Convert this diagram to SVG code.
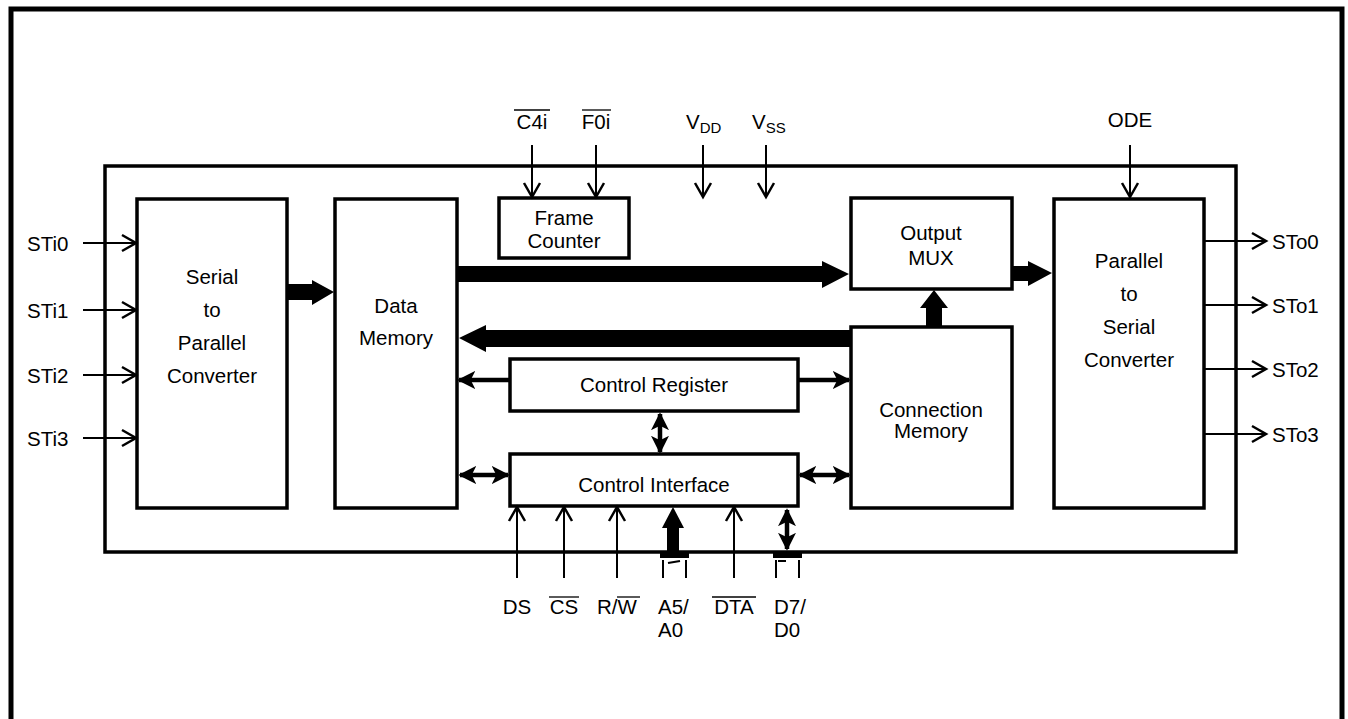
<svg xmlns="http://www.w3.org/2000/svg" width="1348" height="719" viewBox="0 0 1348 719">
<defs>
<style>
.box{fill:#fff;stroke:#000;stroke-width:3.5}
.frame{fill:none;stroke:#000;stroke-width:5}
.t{font-family:"Liberation Sans",Arial,sans-serif;font-size:20.5px;fill:#000;text-anchor:middle}
.l{font-family:"Liberation Sans",Arial,sans-serif;font-size:20.5px;fill:#000}
.w{stroke:#000;stroke-width:2;fill:none}
.m{stroke:#000;stroke-width:4.5;fill:none}
.fill{fill:#000;stroke:none}
.ov{stroke:#000;stroke-width:1.3}
</style>
<marker id="open" viewBox="0 0 20 20" refX="17" refY="10" markerWidth="20" markerHeight="20" markerUnits="userSpaceOnUse" orient="auto">
<polyline points="3,2 17,10 3,18" fill="none" stroke="#000" stroke-width="2.5"/>
</marker>
<marker id="solid" viewBox="0 0 20 20" refX="18" refY="10" markerWidth="18" markerHeight="18" markerUnits="userSpaceOnUse" orient="auto-start-reverse">
<polygon points="0,0 20,10 0,20 5,10" fill="#000"/>
</marker>
</defs>
<path class="frame" d="M11,725 V9 H1342 V725"/>
<g id="chip"><rect class="box" x="105" y="166" width="1131" height="386"/></g>
<g id="serial-to-parallel"><rect class="box" x="137" y="199" width="150" height="309"/>
<text class="t" x="212" y="284">Serial</text><text class="t" x="212" y="317">to</text><text class="t" x="212" y="350">Parallel</text><text class="t" x="212" y="383">Converter</text></g>
<g id="data-memory"><rect class="box" x="335" y="199" width="122" height="309"/>
<text class="t" x="396" y="313">Data</text><text class="t" x="396" y="345">Memory</text></g>
<g id="frame-counter"><rect class="box" x="499" y="198" width="130" height="60"/>
<text class="t" x="564" y="225">Frame</text><text class="t" x="564" y="248">Counter</text></g>
<g id="output-mux"><rect class="box" x="851" y="198" width="161" height="91"/>
<text class="t" x="931" y="240">Output</text><text class="t" x="931" y="265">MUX</text></g>
<g id="connection-memory"><rect class="box" x="851" y="327" width="161" height="181"/>
<text class="t" x="931" y="417">Connection</text><text class="t" x="931" y="438">Memory</text></g>
<g id="parallel-to-serial"><rect class="box" x="1054" y="199" width="150" height="309"/>
<text class="t" x="1129" y="268">Parallel</text><text class="t" x="1129" y="301">to</text><text class="t" x="1129" y="334">Serial</text><text class="t" x="1129" y="367">Converter</text></g>
<g id="control-register"><rect class="box" x="510" y="359" width="288" height="52"/>
<text class="t" x="654" y="392">Control Register</text></g>
<g id="control-interface"><rect class="box" x="510" y="454" width="288" height="52"/>
<text class="t" x="654" y="492">Control Interface</text></g>
<g id="connectors">
<line class="w" x1="83" y1="243" x2="136" y2="243" marker-end="url(#open)"/>
<line class="w" x1="83" y1="310" x2="136" y2="310" marker-end="url(#open)"/>
<line class="w" x1="83" y1="375" x2="136" y2="375" marker-end="url(#open)"/>
<line class="w" x1="83" y1="438" x2="136" y2="438" marker-end="url(#open)"/>
<line class="w" x1="1205" y1="241" x2="1266" y2="241" marker-end="url(#open)"/>
<line class="w" x1="1205" y1="305" x2="1266" y2="305" marker-end="url(#open)"/>
<line class="w" x1="1205" y1="369" x2="1266" y2="369" marker-end="url(#open)"/>
<line class="w" x1="1205" y1="434" x2="1266" y2="434" marker-end="url(#open)"/>
<line class="w" x1="532" y1="145" x2="532" y2="197" marker-end="url(#open)"/>
<line class="w" x1="596" y1="145" x2="596" y2="197" marker-end="url(#open)"/>
<line class="w" x1="703" y1="145" x2="703" y2="197" marker-end="url(#open)"/>
<line class="w" x1="766" y1="145" x2="766" y2="197" marker-end="url(#open)"/>
<line class="w" x1="1130" y1="145" x2="1130" y2="197" marker-end="url(#open)"/>
<line class="w" x1="517" y1="578" x2="517" y2="507" marker-end="url(#open)"/>
<line class="w" x1="564" y1="578" x2="564" y2="507" marker-end="url(#open)"/>
<line class="w" x1="617" y1="578" x2="617" y2="507" marker-end="url(#open)"/>
<line class="w" x1="734" y1="578" x2="734" y2="507" marker-end="url(#open)"/>
<polygon class="fill" points="287,284 312,284 312,280 334,292 312,305 312,300 287,300"/>
<polygon class="fill" points="458,266 822,266 822,261 849,274 822,288 822,282 458,282"/>
<polygon class="fill" points="850,330 486,330 486,325 459,338 486,352 486,347 850,347"/>
<polygon class="fill" points="1013,266 1028,266 1028,261 1052,273 1028,286 1028,281 1013,281"/>
<polygon class="fill" points="926,327 926,308 920,308 934,290 948,308 942,308 942,327"/>
<line class="m" x1="510" y1="380" x2="459" y2="380" marker-end="url(#solid)"/>
<line class="m" x1="798" y1="380" x2="849" y2="380" marker-end="url(#solid)"/>
<line class="m" x1="660" y1="414" x2="660" y2="452" marker-start="url(#solid)" marker-end="url(#solid)"/>
<line class="m" x1="460" y1="475" x2="508" y2="475" marker-start="url(#solid)" marker-end="url(#solid)"/>
<line class="m" x1="800" y1="475" x2="849" y2="475" marker-start="url(#solid)" marker-end="url(#solid)"/>
<polygon class="fill" points="667,553 667,528 662,528 673,507 684,528 679,528 679,553"/>
<rect class="fill" x="660" y="551" width="29" height="7"/>
<line class="w" x1="663" y1="560" x2="663" y2="578"/>
<line class="w" x1="686" y1="560" x2="686" y2="578"/>
<line class="w" x1="668" y1="563" x2="680" y2="561"/>
<line class="m" x1="787" y1="510" x2="787" y2="549" marker-start="url(#solid)" marker-end="url(#solid)"/>
<rect class="fill" x="773" y="551" width="29" height="7"/>
<line class="w" x1="776" y1="560" x2="776" y2="578"/>
<line class="w" x1="799" y1="560" x2="799" y2="578"/>
<line class="w" x1="778" y1="561" x2="786" y2="561"/>
</g>
<g id="labels">
<text class="l" x="27" y="251">STi0</text>
<text class="l" x="27" y="318">STi1</text>
<text class="l" x="27" y="383">STi2</text>
<text class="l" x="27" y="446">STi3</text>
<text class="l" x="1272" y="249">STo0</text>
<text class="l" x="1272" y="313">STo1</text>
<text class="l" x="1272" y="377">STo2</text>
<text class="l" x="1272" y="442">STo3</text>
<text class="t" x="532" y="129">C4i</text><line class="ov" x1="514" y1="110" x2="550" y2="110"/>
<text class="t" x="596" y="129">F0i</text><line class="ov" x1="582" y1="110" x2="611" y2="110"/>
<text class="l" x="686" y="129">V<tspan font-size="15" dy="4">DD</tspan></text>
<text class="l" x="752" y="129">V<tspan font-size="15" dy="4">SS</tspan></text>
<text class="t" x="1130" y="127">ODE</text>
<text class="t" x="517" y="614">DS</text>
<text class="t" x="564" y="614">CS</text><line class="ov" x1="549" y1="597" x2="579" y2="597"/>
<text class="t" x="617" y="614">R/W</text><line class="ov" x1="617" y1="597" x2="640" y2="597"/>
<text class="l" x="658" y="614">A5/</text><text class="l" x="658" y="637">A0</text>
<text class="t" x="734" y="614">DTA</text><line class="ov" x1="712" y1="597" x2="756" y2="597"/>
<text class="l" x="774" y="614">D7/</text><text class="l" x="774" y="637">D0</text>
</g>
</svg>
